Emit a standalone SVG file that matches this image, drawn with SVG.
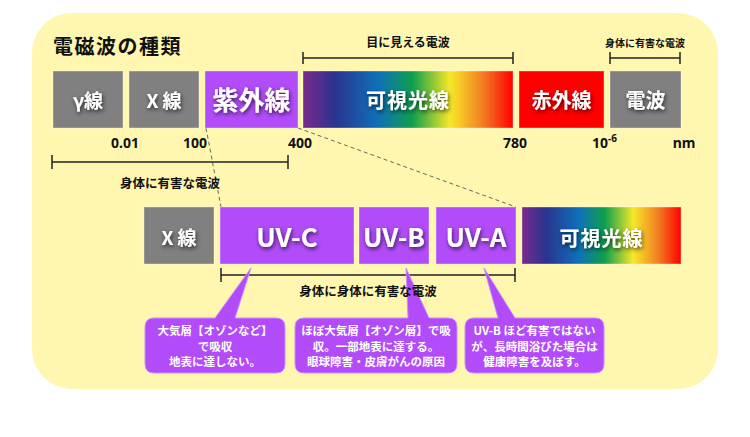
<svg xmlns="http://www.w3.org/2000/svg" width="750" height="437" viewBox="0 0 750 437">
<defs>
<linearGradient id="rainbow" x1="0" y1="0" x2="1" y2="0">
<stop offset="0" stop-color="#7A2A8E"/>
<stop offset="0.15" stop-color="#2B3390"/>
<stop offset="0.36" stop-color="#0E71B8"/>
<stop offset="0.52" stop-color="#0E9F4E"/>
<stop offset="0.7" stop-color="#F6E828"/>
<stop offset="0.86" stop-color="#F37B22"/>
<stop offset="1" stop-color="#FF0000"/>
</linearGradient>
<filter id="sh" x="-20%" y="-30%" width="140%" height="170%">
<feDropShadow dx="1" dy="2" stdDeviation="2" flood-color="#000" flood-opacity="0.7"/>
</filter>
</defs>
<style>
.jp{font-family:"Noto Sans CJK JP","Noto Sans",sans-serif;font-weight:bold}
.num{font-family:"Noto Sans","Open Sans",sans-serif;font-weight:bold;fill:#111}
.lbl{fill:#111;text-anchor:middle}
.bx{stroke:#FFFFFF;stroke-opacity:0.35;stroke-width:1}
.gray{fill:#808080}
.purple{fill:#B24CFA}
.red{fill:#FF0000}
.bt{fill:#fff;text-anchor:middle;filter:url(#sh)}
.bracket{stroke:#222;stroke-width:1.5;fill:none}
.dash{stroke:#666;stroke-width:1;stroke-dasharray:4 3;fill:none}
.co{fill:#B24CFA;stroke:#CC8CFF;stroke-width:1}
.ct{fill:#fff;text-anchor:middle;font-size:11.5px}
</style>

<rect x="32" y="13" width="686" height="376" rx="40" ry="40" fill="#FFF7B0"/>

<text class="jp" x="53" y="54" font-size="20" letter-spacing="1.5" fill="#111">電磁波の種類</text>

<g id="connectors">
<line class="dash" x1="206" y1="128" x2="221" y2="207"/>
<line class="dash" x1="298" y1="128" x2="516" y2="207"/>
<path class="bracket" d="M303,58 H513 M303,52 V64 M513,52 V64"/>
<path class="bracket" d="M610,58 H680 M610,52 V64 M680,52 V64"/>
<path class="bracket" d="M52,162 H288 M52,155 V169 M288,155 V169"/>
<path class="bracket" d="M221,275 H515 M221,268 V282 M515,268 V282"/>
</g>

<text class="jp lbl" x="408" y="47" font-size="12">目に見える電波</text>
<text class="jp lbl" x="645" y="47" font-size="10">身体に有害な電波</text>
<text class="jp lbl" x="170" y="188" font-size="12.5">身体に有害な電波</text>

<g id="scale">
<text class="num" x="125" y="148" font-size="14" text-anchor="middle">0.01</text>
<text class="num" x="195" y="148" font-size="14" text-anchor="middle">100</text>
<text class="num" x="300" y="148" font-size="14" text-anchor="middle">400</text>
<text class="num" x="515" y="148" font-size="14" text-anchor="middle">780</text>
<text class="num" x="592" y="148" font-size="14">10<tspan font-size="10" dy="-6">-6</tspan></text>
<text class="num" x="684" y="148" font-size="14" text-anchor="middle">nm</text>
</g>

<g id="gamma"><rect class="bx gray" x="53" y="71" width="70" height="57"/><text class="jp bt" x="88" y="108" font-size="19">γ線</text></g>
<g id="xray1"><rect class="bx gray" x="129" y="71" width="70" height="57"/><text class="jp bt" x="164" y="108" font-size="19">X 線</text></g>
<g id="uv"><rect class="bx purple" x="205" y="71" width="93" height="57"/><text class="jp bt" x="251.5" y="110" font-size="26">紫外線</text></g>
<g id="visible1"><rect class="bx" fill="url(#rainbow)" x="303" y="71" width="210" height="57"/><text class="jp bt" x="408" y="108" font-size="20" letter-spacing="1">可視光線</text></g>
<g id="ir"><rect class="bx red" x="519" y="71" width="85" height="57"/><text class="jp bt" x="561.5" y="108" font-size="20">赤外線</text></g>
<g id="radio"><rect class="bx gray" x="610" y="71" width="71" height="57"/><text class="jp bt" x="645.5" y="108" font-size="20">電波</text></g>

<g id="xray2"><rect class="bx gray" x="144" y="207" width="70" height="57"/><text class="jp bt" x="179" y="245" font-size="19">X 線</text></g>
<g id="uvc"><rect class="bx purple" x="220" y="207" width="134" height="57"/><text class="jp bt" x="287" y="247" font-size="26">UV-C</text></g>
<g id="uvb"><rect class="bx purple" x="359" y="207" width="70" height="57"/><text class="jp bt" x="394" y="247" font-size="26">UV-B</text></g>
<g id="uva"><rect class="bx purple" x="436" y="207" width="80" height="57"/><text class="jp bt" x="476" y="247" font-size="26">UV-A</text></g>
<g id="visible2"><rect class="bx" fill="url(#rainbow)" x="522" y="207" width="159" height="57"/><text class="jp bt" x="601.5" y="246" font-size="20" letter-spacing="1">可視光線</text></g>

<g id="callout-uvc">
<path class="co" d="M154,318 H215 L251,268 L235,318 H276 Q285,318 285,327 V364 Q285,373 276,373 H154 Q145,373 145,364 V327 Q145,318 154,318 Z"/>
<text class="jp ct" x="215" y="335">大気層【オゾンなど】</text>
<text class="jp ct" x="215" y="351">で吸収</text>
<text class="jp ct" x="215" y="366">地表に達しない。</text>
</g>
<g id="callout-uvb">
<path class="co" d="M304,318 H408 L406,268 L429,318 H448 Q457,318 457,327 V364 Q457,373 448,373 H304 Q295,373 295,364 V327 Q295,318 304,318 Z"/>
<text class="jp ct" x="376" y="335">ほぼ大気層【オゾン層】で吸</text>
<text class="jp ct" x="376" y="351">収。一部地表に達する。</text>
<text class="jp ct" x="376" y="366">眼球障害・皮膚がんの原因</text>
</g>
<g id="callout-uva">
<path class="co" d="M474,318 H498 L484,268 L515,318 H595 Q604,318 604,327 V364 Q604,373 595,373 H474 Q465,373 465,364 V327 Q465,318 474,318 Z"/>
<text class="jp ct" x="534.5" y="335">UV-B ほど有害ではない</text>
<text class="jp ct" x="534.5" y="351">が、長時間浴びた場合は</text>
<text class="jp ct" x="534.5" y="366">健康障害を及ぼす。</text>
</g>

<text class="jp lbl" x="368" y="296" font-size="12.5">身体に身体に有害な電波</text>
</svg>
